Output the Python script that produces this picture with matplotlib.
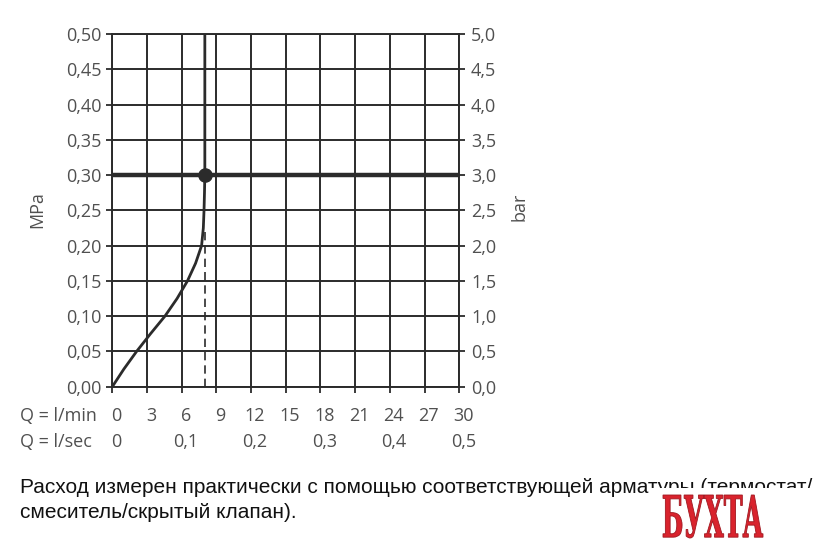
import matplotlib
matplotlib.use("Agg")
import matplotlib.pyplot as plt
from matplotlib.patches import Rectangle, PathPatch
from matplotlib.textpath import TextPath
from matplotlib.font_manager import FontProperties
import matplotlib.transforms as mtransforms
import matplotlib.patheffects as pe

# flow curve of the mixer (l/min vs MPa)
flow_lpm = [0.0, 1.0, 2.1, 3.3, 4.55, 5.6, 6.5, 7.2, 7.72, 7.87, 7.93, 7.97, 8.0, 8.0]
pressure_mpa = [0.0, 0.025, 0.05, 0.075, 0.10, 0.125, 0.15, 0.175, 0.20, 0.225,
                0.25, 0.275, 0.30, 0.50]

# operating point and dashed drop line
op_flow = 8.0
op_pressure = 0.30
dash_top = 0.22

lpm_ticks = [0, 3, 6, 9, 12, 15, 18, 21, 24, 27, 30]
lps_ticks = [0, 0.1, 0.2, 0.3, 0.4, 0.5]
mpa_ticks = [0.0, 0.05, 0.10, 0.15, 0.20, 0.25, 0.30, 0.35, 0.40, 0.45, 0.50]
bar_ticks = [0.0, 0.5, 1.0, 1.5, 2.0, 2.5, 3.0, 3.5, 4.0, 4.5, 5.0]

caption_lines = ["Расход измерен практически с помощью соответствующей арматуры (термостат/",
                 "смеситель/скрытый клапан)."]
watermark = "БУХТА"

INK = "#2b2b2b"
LABEL = "#505050"
FONT = ["Open Sans", "DejaVu Sans"]
FS = 13


def comma(v, nd):
    return f"{v:.{nd}f}".replace(".", ",")


fig = plt.figure(figsize=(8.4, 5.5), dpi=100)
ax = fig.add_axes([112.3 / 840, 1 - 386.7 / 550, 347 / 840, 352.7 / 550])
ax.set_xlim(0, 30)
ax.set_ylim(0, 0.5)

ax.set_xticks(lpm_ticks)
ax.set_yticks(mpa_ticks)
ax.set_xticklabels([])
ax.set_yticklabels([comma(v, 2) for v in mpa_ticks], family=FONT, fontsize=FS, color=LABEL)
ax.tick_params(axis="both", direction="out", length=4.5, width=1.3, color=INK)
ax.tick_params(axis="y", pad=3)
ax.grid(True, color=INK, lw=1.4)
ax.set_axisbelow(True)
for s in ax.spines.values():
    s.set_color(INK)
    s.set_linewidth(1.4)

# main horizontal line at the operating pressure
ax.axhline(op_pressure, color=INK, lw=3.2, zorder=3)
# dashed line down from the curve knee
ax.plot([op_flow, op_flow], [0, dash_top], color=INK, lw=1.2, ls=(0, (5, 3)), zorder=3)
# the flow curve
ax.plot(flow_lpm, pressure_mpa, color=INK, lw=2.0, zorder=4, solid_joinstyle="round")
ax.plot([op_flow], [op_pressure], "o", color=INK, ms=9.5, zorder=5)

ax2 = ax.twinx()
ax2.set_ylim(0, 5)
ax2.set_yticks(bar_ticks)
ax2.set_yticklabels([comma(v, 1) for v in bar_ticks], family=FONT, fontsize=FS, color=LABEL)
ax2.tick_params(axis="y", direction="out", length=4.5, width=1.3, color=INK, pad=4)
for s in ax2.spines.values():
    s.set_visible(False)

fig.text(37 / 840, 1 - 210 / 550, "MPa", family=FONT, fontsize=FS, color=LABEL,
         rotation=90, ha="center", va="center")
fig.text(519 / 840, 1 - 207 / 550, "bar", family=FONT, fontsize=FS, color=LABEL,
         rotation=90, ha="center", va="center")

# bottom rows of flow labels
row = mtransforms.blended_transform_factory(ax.transData, fig.transFigure)
shift = mtransforms.offset_copy(row, fig=fig, x=4, y=0, units="dots")
y_min = 1 - 416 / 550
y_sec = 1 - 442 / 550
fig.text(20 / 840, y_min, "Q = l/min", family=FONT, fontsize=FS, color=LABEL,
         ha="left", va="center")
fig.text(20 / 840, y_sec, "Q = l/sec", family=FONT, fontsize=FS, color=LABEL,
         ha="left", va="center")
for v in lpm_ticks:
    ax.text(v, y_min, str(v), transform=shift, family=FONT, fontsize=FS,
            color=LABEL, ha="center", va="center")
for v in lps_ticks:
    txt = "0" if v == 0 else comma(v, 1)
    ax.text(v * 60, y_sec, txt, transform=shift, family=FONT, fontsize=FS,
            color=LABEL, ha="center", va="center")

# caption
for i, line in enumerate(caption_lines):
    fig.text(20 / 840, 1 - (493 + 25 * i) / 550, line, family=["Liberation Sans", "DejaVu Sans"],
             fontsize=15, color="#111111", ha="left", va="baseline")

# watermark: white patch over the caption end, then a condensed red logo
fig.patches.append(Rectangle((650 / 840, 0), 190 / 840, 1 - 488 / 550,
                             transform=fig.transFigure, facecolor="white",
                             edgecolor="none", zorder=10))
tp = TextPath((0, 0), watermark, size=50,
              prop=FontProperties(family="DejaVu Serif", weight="bold"))
ext = tp.get_extents()
x0, x1, ytop, ybot = 663, 763, 495, 538
fit = (mtransforms.Affine2D()
       .translate(-ext.x0, -ext.y0)
       .scale((x1 - x0) / ext.width, (ybot - ytop) / ext.height)
       .translate(x0, 550 - ybot))
logo = PathPatch(fit.transform_path(tp), transform=mtransforms.IdentityTransform(),
                 facecolor="#d9232d", edgecolor="#a01820", lw=0.6, zorder=11)
logo.set_path_effects([pe.Stroke(linewidth=3.5, foreground="white"), pe.Normal()])
fig.patches.append(logo)

fig.savefig("out.png", dpi=100)
